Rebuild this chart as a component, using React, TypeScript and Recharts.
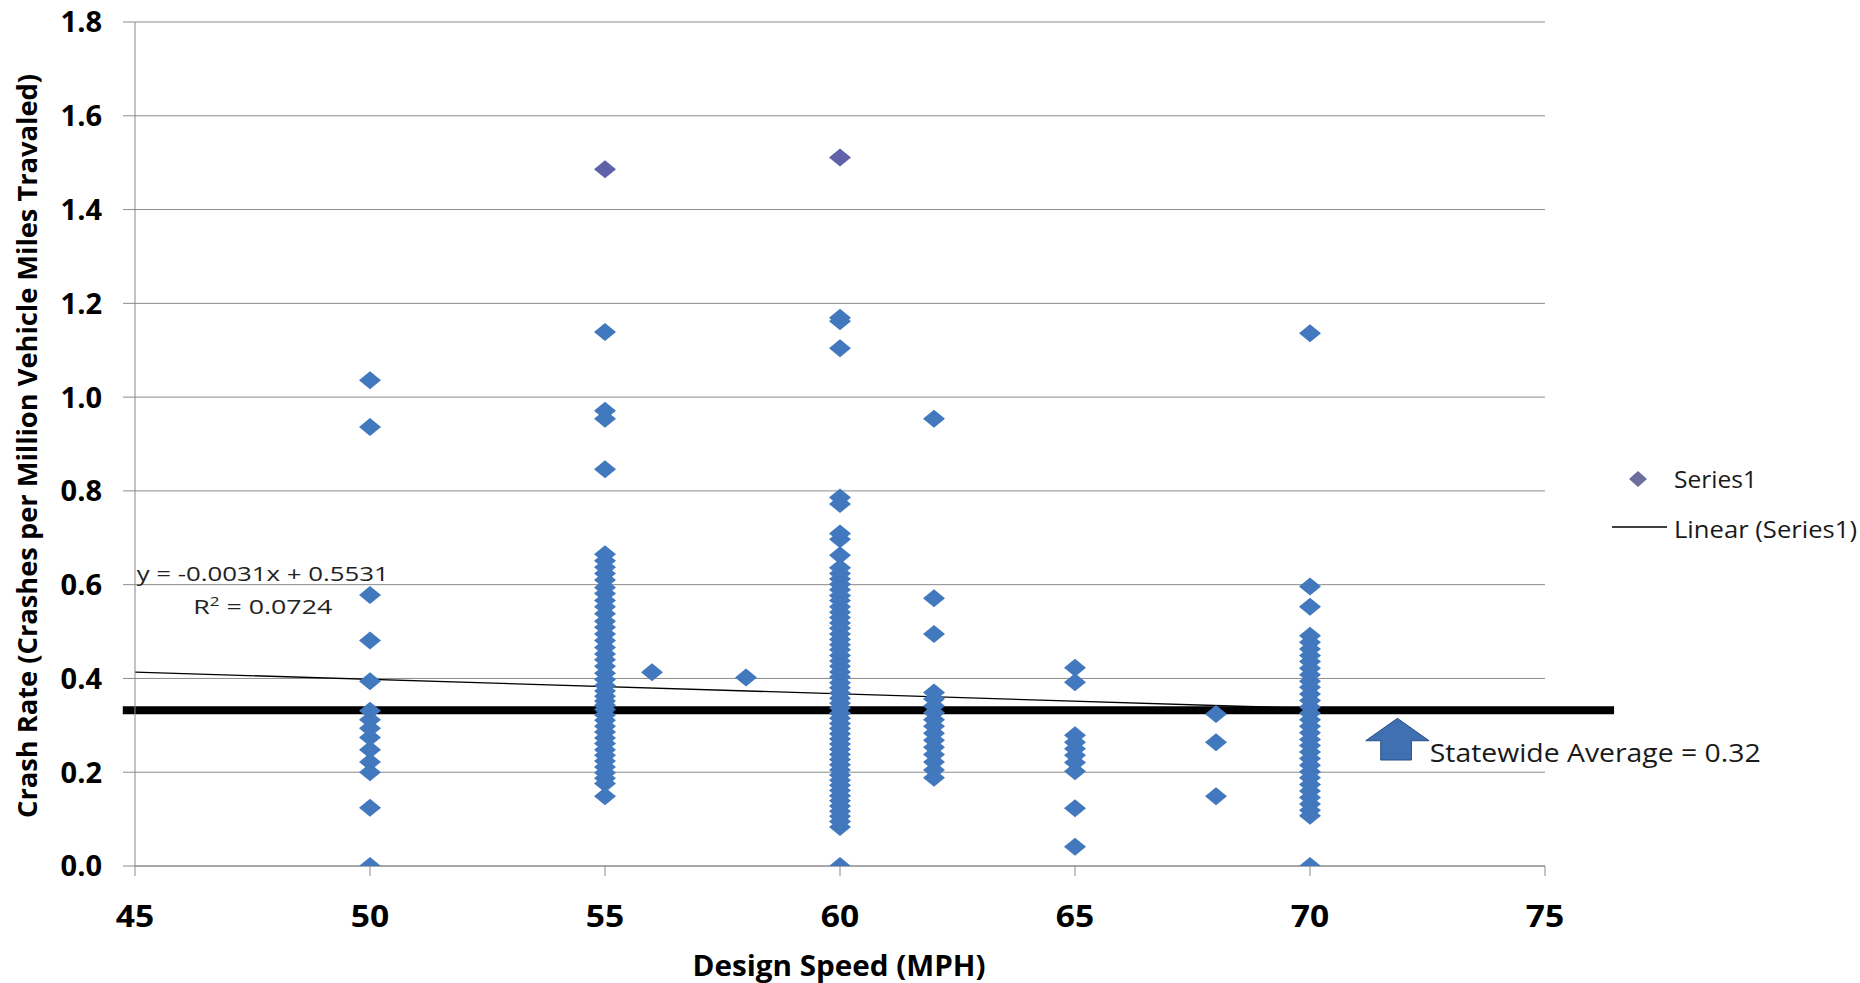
import React from 'react';
import { ScatterChart, Scatter, XAxis, YAxis, CartesianGrid, ReferenceLine, ReferenceDot, Legend } from 'recharts';

// ---- axis ticks ----
const xTicks = [45, 50, 55, 60, 65, 70, 75];
const yTicks = [0, 0.2, 0.4, 0.6, 0.8, 1.0, 1.2, 1.4, 1.6, 1.8];

// ---- data: crash rate per design speed ----
const designSpeeds = [50, 55, 56, 58, 60, 62, 65, 68, 70];
const rates50 = [1.036, 0.936, 0.578, 0.481, 0.394, 0.331, 0.312, 0.294, 0.274, 0.248, 0.222, 0.2, 0.124, 0.0];
const rates55 = [1.486, 1.139, 0.971, 0.954, 0.846, 0.665, 0.651, 0.637, 0.624, 0.61, 0.594, 0.581, 0.566, 0.553, 0.538, 0.522, 0.509, 0.495, 0.481, 0.466, 0.452, 0.44, 0.426, 0.411, 0.398, 0.385, 0.373, 0.362, 0.352, 0.343, 0.334, 0.322, 0.311, 0.298, 0.286, 0.273, 0.261, 0.248, 0.236, 0.224, 0.211, 0.199, 0.187, 0.176, 0.149];
const rates56 = [0.413];
const rates58 = [0.402];
const rates60 = [1.511, 1.169, 1.162, 1.104, 0.786, 0.772, 0.709, 0.697, 0.663, 0.636, 0.624, 0.612, 0.601, 0.589, 0.577, 0.566, 0.553, 0.541, 0.53, 0.518, 0.507, 0.495, 0.483, 0.472, 0.461, 0.449, 0.437, 0.426, 0.414, 0.403, 0.391, 0.38, 0.369, 0.358, 0.347, 0.337, 0.326, 0.315, 0.304, 0.293, 0.282, 0.271, 0.26, 0.249, 0.238, 0.227, 0.216, 0.205, 0.194, 0.183, 0.172, 0.161, 0.15, 0.139, 0.128, 0.117, 0.106, 0.095, 0.083, 0.0];
const rates62 = [0.954, 0.571, 0.495, 0.37, 0.356, 0.341, 0.327, 0.312, 0.298, 0.283, 0.268, 0.253, 0.238, 0.222, 0.205, 0.188];
const rates65 = [0.423, 0.392, 0.279, 0.264, 0.25, 0.236, 0.221, 0.202, 0.123, 0.041];
const rates68 = [0.324, 0.264, 0.149];
const rates70 = [1.136, 0.596, 0.553, 0.491, 0.477, 0.463, 0.449, 0.436, 0.422, 0.408, 0.394, 0.381, 0.367, 0.353, 0.339, 0.326, 0.312, 0.298, 0.284, 0.27, 0.257, 0.243, 0.229, 0.215, 0.201, 0.188, 0.174, 0.16, 0.146, 0.132, 0.119, 0.107, 0.0];
const ratesBySpeed = [rates50, rates55, rates56, rates58, rates60, rates62, rates65, rates68, rates70];

// ---- trendline & statewide average ----
const trendSlope = -0.0031;
const trendIntercept = 0.5531;
const trendR2 = '0.0724';
const trendRange = [45, 70];
const statewideAverageText = '0.32';
const statewideLineY = 0.332;
const statewideLineRange = [44.74, 76.47];
const statewideArrowX = 71.86;
const equationAnchor = { x: 45, y: 0.6 };

const points = designSpeeds.flatMap((s, i) => ratesBySpeed[i].map((r) => ({ x: s, y: r })));
const trendY = (x: number) => trendIntercept + trendSlope * x;

const BLUE = '#4178be';
const PURPLE = '#5f62a8';
const GRID = '#8a8a8a';
const FONT = '"Open Sans", "Noto Sans", sans-serif';

const Diamond = (props: any) => {
  const { cx, cy, payload } = props;
  if (cx == null || cy == null) return null;
  const fill = payload && payload.y > 1.3 ? PURPLE : BLUE;
  return (
    <polygon
      points={`${cx},${cy - 9} ${cx + 11},${cy} ${cx},${cy + 9} ${cx - 11},${cy}`}
      fill={fill}
    />
  );
};

const XTick = (props: any) => {
  const { x, y, payload } = props;
  return (
    <g transform={`translate(${x},${y + 50.7}) scale(1.12,1)`}>
      <text x={0} y={0} textAnchor="middle" fontFamily={FONT} fontSize={30} fontWeight={700} fill="#000">
        {payload.value}
      </text>
    </g>
  );
};

const YTick = (props: any) => {
  const { x, y, payload } = props;
  return (
    <text x={x - 21} y={y + 10.4} textAnchor="end" fontFamily={FONT} fontSize={29} fontWeight={700} fill="#000">
      {Number(payload.value).toFixed(1)}
    </text>
  );
};

const XTitle = (props: any) => {
  const vb = props.viewBox;
  return (
    <text
      x={vb.x + vb.width / 2 - 1}
      y={vb.y + 110}
      textAnchor="middle"
      fontFamily={FONT}
      fontSize={28}
      fontWeight={700}
      fill="#000"
      textLength={293}
      lengthAdjust="spacingAndGlyphs"
    >
      Design Speed (MPH)
    </text>
  );
};

const YTitle = (props: any) => {
  const vb = props.viewBox;
  const cx = vb.x + 26;
  const cy = vb.y + vb.height / 2 + 2;
  return (
    <text
      transform={`translate(${cx},${cy}) rotate(-90) scale(1,1.15)`}
      x={0}
      y={0}
      textAnchor="middle"
      dominantBaseline="central"
      fontFamily={FONT}
      fontSize={24}
      fontWeight={700}
      fill="#000"
      textLength={744}
      lengthAdjust="spacingAndGlyphs"
    >
      Crash Rate (Crashes per Million Vehicle Miles Travaled)
    </text>
  );
};

const EquationLabel = (props: any) => {
  const { cx, cy } = props;
  if (cx == null || cy == null) return null;
  return (
    <g>
      <text x={cx + 1.7} y={cy - 4} fontFamily={FONT} fontSize={20.5} fill="#222" textLength={252} lengthAdjust="spacingAndGlyphs">
        {`y = ${trendSlope}x + ${trendIntercept}`}
      </text>
      <text x={cx + 58.3} y={cy + 29.3} fontFamily={FONT} fontSize={20.5} fill="#222" textLength={139} lengthAdjust="spacingAndGlyphs">
        R<tspan fontSize={13} dy={-8}>2</tspan>
        <tspan dy={8}>{` = ${trendR2}`}</tspan>
      </text>
    </g>
  );
};

const StatewideArrow = (props: any) => {
  const { cx, cy } = props;
  if (cx == null || cy == null) return null;
  const tipY = cy + 8;
  const baseY = cy + 30.4;
  const botY = cy + 49.7;
  return (
    <g>
      <polygon
        points={`${cx},${tipY} ${cx + 31.7},${baseY} ${cx + 14},${baseY} ${cx + 14},${botY} ${cx - 16.7},${botY} ${cx - 16.7},${baseY} ${cx - 31.7},${baseY}`}
        fill="#3f71b2"
        stroke="#2b4f80"
        strokeWidth={1}
      />
      <text x={cx + 32.3} y={cy + 51.4} fontFamily={FONT} fontSize={25.5} fill="#1a1a1a" textLength={331} lengthAdjust="spacingAndGlyphs">
        {`Statewide Average = ${statewideAverageText}`}
      </text>
    </g>
  );
};

const LegendContent = () => (
  <svg width={260} height={110} style={{ overflow: 'visible', display: 'block' }}>
    <polygon points="38,31 47,39 38,47 29,39" fill="#6e6e9e" />
    <text x={74} y={48.3} fontFamily={FONT} fontSize={23} fill="#1a1a1a" textLength={83} lengthAdjust="spacingAndGlyphs">
      Series1
    </text>
    <line x1={12} y1={87} x2={67} y2={87} stroke="#000" strokeWidth={1.5} />
    <text x={74} y={98} fontFamily={FONT} fontSize={23} fill="#1a1a1a" textLength={183} lengthAdjust="spacingAndGlyphs">
      Linear (Series1)
    </text>
  </svg>
);

export default function App() {
  return (
    <div style={{ position: 'absolute', left: 0, top: 0, width: 1860, height: 983, background: '#fff', fontFamily: FONT }}>
      <ScatterChart width={1860} height={983} margin={{ top: 22, right: 315, bottom: 0, left: 0 }}>
        <CartesianGrid horizontal vertical={false} stroke={GRID} strokeWidth={1} />
        <XAxis
          type="number"
          dataKey="x"
          domain={[45, 75]}
          ticks={xTicks}
          allowDataOverflow
          height={117}
          tickSize={10}
          tickMargin={0}
          axisLine={{ stroke: GRID }}
          tickLine={{ stroke: GRID }}
          tick={<XTick />}
          interval={0}
          label={XTitle}
        />
        <YAxis
          type="number"
          dataKey="y"
          domain={[0, 1.8]}
          ticks={yTicks}
          allowDataOverflow
          width={135}
          tickSize={12}
          tickMargin={0}
          axisLine={{ stroke: GRID }}
          tickLine={{ stroke: GRID }}
          tick={<YTick />}
          interval={0}
          label={YTitle}
        />
        <Scatter data={points} shape={<Diamond />} isAnimationActive={false} />
        <ReferenceLine
          segment={[
            { x: trendRange[0], y: trendY(trendRange[0]) },
            { x: trendRange[1], y: trendY(trendRange[1]) },
          ]}
          stroke="#000"
          strokeWidth={1.3}
          ifOverflow="visible"
        />
        <ReferenceLine
          segment={[
            { x: statewideLineRange[0], y: statewideLineY },
            { x: statewideLineRange[1], y: statewideLineY },
          ]}
          stroke="#000"
          strokeWidth={8}
          ifOverflow="visible"
        />
        <ReferenceDot x={equationAnchor.x} y={equationAnchor.y} ifOverflow="visible" shape={<EquationLabel />} />
        <ReferenceDot x={statewideArrowX} y={statewideLineY} ifOverflow="visible" shape={<StatewideArrow />} />
        <Legend
          layout="vertical"
          align="center"
          verticalAlign="middle"
          content={<LegendContent />}
          wrapperStyle={{ left: 1600, top: 440, width: 260, height: 110 }}
        />
      </ScatterChart>
    </div>
  );
}
